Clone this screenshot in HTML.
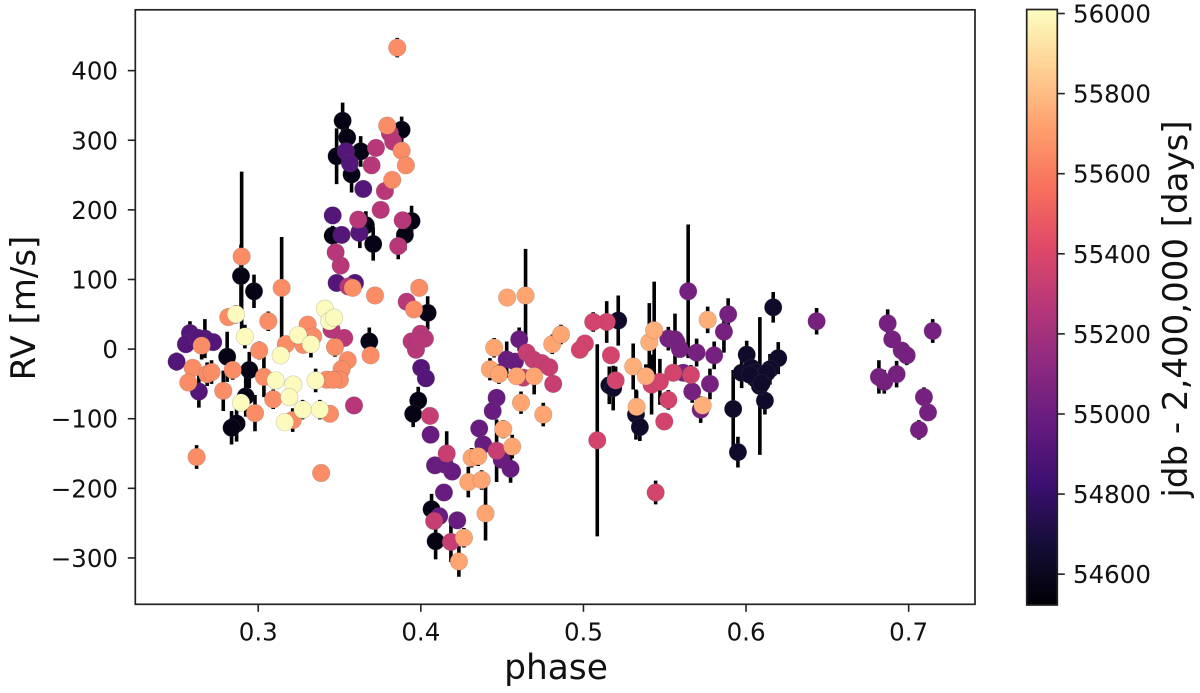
<!DOCTYPE html>
<html>
<head>
<meta charset="utf-8">
<title>RV vs phase</title>
<style>
html,body{margin:0;padding:0;background:#fff;}
svg{display:block;filter:blur(0.35px);}
text{font-family:"DejaVu Sans","Liberation Sans",sans-serif;fill:#111;}
</style>
</head>
<body>
<svg id="chart" width="1200" height="693" viewBox="0 0 1200 693" xmlns="http://www.w3.org/2000/svg"></svg>
<script>
const xTicks = [0.3, 0.4, 0.5, 0.6, 0.7];
const yTicks = [-300, -200, -100, 0, 100, 200, 300, 400];
const cbTicks = [54600, 54800, 55000, 55200, 55400, 55600, 55800, 56000];
const magmaStops = ['#000004','#140e36','#3b0f70','#641a80','#8c2981','#b73779','#de4968','#f7705c','#fe9f6d','#fecf92','#fcfdbf'];

const phases = [
 .3519,.3547,.3482,.3630,.3574,.3882,.3943,.3902,.3662,.3707,.3458,.3625,.2894,.2974,.4042,.2809,.2945,.2923,.2867,.2836,.3683,.3984,.3953,.4066,.4091,
 .5214,.5159,.5183,.5323,.5347,.5921,.5950,.6167,.6004,.6198,.6147,.6116,.6085,.5973,.6034,.6055,.6024,.6127,.6096,
 .3539,.3564,.3646,.3458,.3513,.3621,.3482,.3595,.2580,.2555,.2672,.2723,.2631,.2498,.2635,.4002,.4031,
 .4060,.4087,.4148,.4193,.4142,.4113,.4224,.4466,.4442,.4359,.4384,.4497,.4552,.4605,.4528,.4579,
 .5644,.5890,.5864,.5696,.5804,.5522,.5563,.5573,.5593,.5614,.5778,.5669,.5721,.6434,.6871,.6899,.6957,.6988,.6817,.6850,.6926,.7148,.7094,.7119,.7063,
 .3724,.3697,.3779,.3753,.3615,.3888,.3861,.3476,.3507,.3554,.3810,.3830,.3913,.3451,.3529,.3589,.3943,.3999,.3970,.4025,.3984,
 .4056,.4159,.4082,.4185,.4466,.4651,.4691,.4743,.4790,.4814,.4630,
 .5198,.5169,.5143,.5060,.5009,.4978,.5085,.5444,.5419,.5470,.5552,.5661,.5522,.5497,
 .3855,.2898,.3144,.3581,.3718,.2597,.2570,.2652,.2686,.2713,.2621,.2785,.2843,.2816,.3062,.3006,.3170,.3035,.3092,.2980,.3304,.3338,.3277,.3212,.3441,.3387,.3472,.3691,.3550,.3513,.3502,.3421,.3461,.3793,.3882,.3908,.3824,.3990,.3958,
 .4531,.4644,.4451,.4425,.4480,.4589,.4697,.4616,.4753,.4507,.4562,.4312,.4353,.4292,.4374,.4398,.4265,.4234,.4808,.4862,
 .5306,.5327,.5384,.5405,.5435,.5733,.5764,
 .2863,.2918,.2894,.3138,.3107,.3246,.3324,.3215,.3191,.3273,.3379,.3353,.3164,.3410,.3437,.3466
];
const rvs = [
 328,304,277,284,251,315,184,164,178,151,163,169,105,83,52,-11,-30,-68,-107,-113,11,-74,-93,-230,-276,
 41,-52,-56,-94,-112,-86,-148,60,-8,-13,-29,-74,-53,-34,-27,-34,-37,-34,-49,
 284,267,230,192,164,167,95,95,23,7,15,10,16,-18,-61,-27,-42,
 -123,-167,-166,-176,-206,-240,-246,-70,-89,-114,-137,-159,-172,14,-15,-18,
 83,50,25,-5,-9,15,14,10,0,-34,-50,-61,-87,40,37,14,-2,-9,-40,-47,-36,26,-69,-91,-116,
 289,264,227,200,186,185,148,139,120,90,310,298,68,28,16,-81,11,22,-1,15,11,
 -96,-150,-247,-277,-146,-5,-15,-20,-26,-50,-41,
 -45,-9,39,39,8,-1,-131,-206,-51,-47,-34,-37,-73,-104,
 433,133,88,88,77,-27,-48,5,-36,-33,-155,-60,-30,46,40,-2,7,-40,-72,-92,35,18,6,-102,-93,-178,3,-9,-16,-29,-44,-44,-44,321,285,264,243,88,57,
 74,77,2,-29,-36,-39,-39,-77,-94,-115,-140,-156,-154,-191,-188,-236,-271,-305,7,21,
 -25,-83,-39,10,27,-81,42,
 50,18,-77,-9,-45,20,7,-51,-69,-87,-87,-45,-105,58,40,45
];
const errors = [
 26,20,40,22,26,19,22,22,20,24,14,24,45,24,24,36,26,29,26,24,20,20,19,22,26,
 36,27,32,36,20,56,22,22,20,23,22,20,99,22,26,14,14,15,14,
 8,8,6,6,8,8,6,6,17,12,28,12,12,13,23,8,8,
 6,6,6,6,6,8,10,8,8,8,8,8,20,17,26,12,
 96,23,30,20,20,17,37,10,10,10,22,16,19,19,20,11,11,14,24,17,19,17,14,11,14,
 6,6,6,6,8,8,19,6,6,6,6,6,8,6,6,4,6,6,6,6,8,
 11,32,8,29,45,8,8,8,8,8,10,
 20,11,30,14,7,7,138,17,43,33,11,14,14,3,
 14,122,73,6,6,11,8,20,17,17,17,29,14,6,14,13,8,29,14,26,6,6,6,17,6,4,14,6,6,6,6,6,6,6,6,6,6,5,6,
 11,67,14,16,14,11,26,16,17,13,17,14,14,22,14,39,14,22,14,14,
 33,23,17,56,70,11,19,
 13,17,8,8,6,6,19,6,6,14,14,17,12,11,6,6
];
const jdbs = [
 54570,54570,54570,54570,54570,54570,54570,54570,54570,54570,54570,54570,54570,54570,54570,54570,54570,54570,54570,54570,54570,54570,54570,54570,54570,
 54640,54640,54640,54640,54640,54640,54640,54640,54640,54640,54640,54640,54640,54640,54640,54640,54640,54640,54640,
 54915,54915,54915,54915,54915,54915,54915,54915,54915,54915,54915,54915,54915,54915,54915,54915,54915,
 54985,54985,54985,54985,54985,54985,54985,54985,54985,54985,54985,54985,54985,54985,54985,54985,
 55037,55037,55037,55037,55037,55037,55037,55037,55037,55037,55037,55037,55037,55037,55037,55037,55037,55037,55037,55037,55037,55037,55037,55037,55037,
 55268,55268,55268,55268,55268,55268,55268,55268,55268,55268,55268,55268,55268,55268,55268,55268,55268,55268,55268,55268,55268,
 55327,55327,55327,55327,55327,55327,55327,55327,55327,55327,55327,
 55372,55372,55372,55372,55372,55372,55372,55372,55372,55372,55372,55372,55372,55372,
 55655,55655,55655,55655,55655,55655,55655,55655,55655,55655,55655,55655,55655,55655,55655,55655,55655,55655,55655,55655,55655,55655,55655,55655,55655,55655,55655,55655,55655,55655,55655,55655,55655,55655,55655,55655,55655,55655,55655,
 55730,55730,55730,55730,55730,55730,55730,55730,55730,55730,55730,55730,55730,55730,55730,55730,55730,55730,55730,55730,
 55760,55760,55760,55760,55760,55760,55760,
 56000,56000,56000,56000,56000,56000,56000,56000,56000,56000,56000,56000,56000,56000,56000,56000
];

const NS = 'http://www.w3.org/2000/svg';
const svg = document.getElementById('chart');
const axL = 135.3, axR = 975, axT = 9.8, axB = 604.3;
const cbL = 1026.7, cbR = 1057.3, cbT = 9.5, cbB = 605;
const xDomain = [0.2244, 0.7408];
const yDomain = [-366.6, 487.4];
const cDomain = [54523, 56010];

function xScale(v){ return axL + (v - xDomain[0]) / (xDomain[1] - xDomain[0]) * (axR - axL); }
function yScale(v){ return axB - (v - yDomain[0]) / (yDomain[1] - yDomain[0]) * (axB - axT); }
function cScale(v){ return cbB - (v - cDomain[0]) / (cDomain[1] - cDomain[0]) * (cbB - cbT); }
function hexToRgb(h){ return [1,3,5].map(function(i){ return parseInt(h.substr(i,2),16); }); }
function colorFor(v){
  let t = (v - cDomain[0]) / (cDomain[1] - cDomain[0]);
  t = Math.max(0, Math.min(1, t)) * (magmaStops.length - 1);
  const i = Math.min(Math.floor(t), magmaStops.length - 2);
  const a = hexToRgb(magmaStops[i]), b = hexToRgb(magmaStops[i + 1]), f = t - i;
  return 'rgb(' + a.map(function(c, k){ return Math.round(c + (b[k] - c) * f); }).join(',') + ')';
}
function el(tag, attrs, parent){
  const e = document.createElementNS(NS, tag);
  for (const k in attrs) e.setAttribute(k, attrs[k]);
  (parent || svg).appendChild(e);
  return e;
}
function label(str, attrs){
  const t = el('text', attrs);
  t.textContent = str;
  return t;
}

const defs = el('defs', {});
const grad = el('linearGradient', {id:'magma-gradient', x1:0, y1:1, x2:0, y2:0}, defs);
magmaStops.forEach(function(c, i){
  el('stop', {offset: (i / (magmaStops.length - 1)), 'stop-color': c}, grad);
});
const clip = el('clipPath', {id:'plot-clip'}, defs);
el('rect', {x:axL, y:axT, width:axR-axL, height:axB-axT}, clip);

const plot = el('g', {'clip-path':'url(#plot-clip)'});



const order = phases.map(function(_, i){ return i; }).sort(function(a, b){ return jdbs[a] - jdbs[b]; });

const barsG = el('g', {}, plot);


order.forEach(function(i){
  const bar = el('line', {x1:xScale(phases[i]), x2:xScale(phases[i]), y1:yScale(rvs[i]+errors[i]), y2:yScale(rvs[i]-errors[i]), stroke:'#000004', 'stroke-width':3.6}, barsG);
  
  
});

const ptsG = el('g', {}, plot);


order.forEach(function(i){
  const pt = el('circle', {cx:xScale(phases[i]), cy:yScale(rvs[i]), r:8.8, fill:colorFor(jdbs[i]), stroke:'rgba(90,90,90,0.3)', 'stroke-width':0.6}, ptsG);
  
  
});

const frame = el('rect', {x:axL, y:axT, width:axR-axL, height:axB-axT, fill:'none', stroke:'#222', 'stroke-width':1.7});



xTicks.forEach(function(v){
  const x = xScale(v);
  const tick = el('line', {x1:x, x2:x, y1:axB, y2:axB+7.5, stroke:'#222', 'stroke-width':1.6});
  
  
  const t = label(v.toFixed(1), {x:x, y:640.5, 'text-anchor':'middle', 'font-size':24.5});
  
  
});
yTicks.forEach(function(v){
  const y = yScale(v);
  const tick = el('line', {x1:axL-7.5, x2:axL, y1:y, y2:y, stroke:'#222', 'stroke-width':1.6});
  
  
  const t = label(String(v).replace('-', '\u2212'), {x:118, y:y+9, 'text-anchor':'end', 'font-size':24.5});
  
  
});

const xTitle = label('phase', {x:556, y:679, 'text-anchor':'middle', 'font-size':34.4});


const yTitle = label('RV [m/s]', {x:0, y:0, 'text-anchor':'middle', 'font-size':34, transform:'translate(35 308) rotate(-90)'});



const cbar = el('rect', {x:cbL, y:cbT, width:cbR-cbL, height:cbB-cbT, fill:'url(#magma-gradient)', stroke:'#222', 'stroke-width':1.7});


cbTicks.forEach(function(v){
  const y = cScale(v);
  const tick = el('line', {x1:cbR, x2:cbR+7.5, y1:y, y2:y, stroke:'#222', 'stroke-width':1.6});
  
  
  const t = label(String(v), {x:1073, y:y+9, 'font-size':24.5});
  
  
});
const cbTitle = label('jdb - 2,400,000 [days]', {x:0, y:0, 'text-anchor':'middle', 'font-size':34, transform:'translate(1187 309) rotate(-90)'});


</script>
</body>
</html>
